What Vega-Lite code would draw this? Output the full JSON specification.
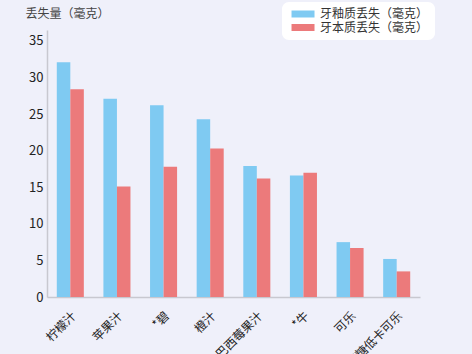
{
  "$schema": "https://vega.github.io/schema/vega-lite/v6.json",
  "autosize": "none",
  "width": 373,
  "height": 267,
  "padding": {"left": 47, "top": 30, "right": 52, "bottom": 57},
  "background": "#eff0fa",
  "config": {
    "font": "Noto Sans CJK SC",
    "view": {"stroke": null}
  },
  "data": {
    "values": [
      {"drink": "柠檬汁", "type": "牙釉质丢失（毫克）", "value": 32.1},
      {"drink": "柠檬汁", "type": "牙本质丢失（毫克）", "value": 28.4},
      {"drink": "苹果汁", "type": "牙釉质丢失（毫克）", "value": 27.1},
      {"drink": "苹果汁", "type": "牙本质丢失（毫克）", "value": 15.1},
      {"drink": "*碧", "type": "牙釉质丢失（毫克）", "value": 26.2},
      {"drink": "*碧", "type": "牙本质丢失（毫克）", "value": 17.8},
      {"drink": "橙汁", "type": "牙釉质丢失（毫克）", "value": 24.3},
      {"drink": "橙汁", "type": "牙本质丢失（毫克）", "value": 20.3},
      {"drink": "巴西莓果汁", "type": "牙釉质丢失（毫克）", "value": 17.9},
      {"drink": "巴西莓果汁", "type": "牙本质丢失（毫克）", "value": 16.2},
      {"drink": "*牛", "type": "牙釉质丢失（毫克）", "value": 16.6},
      {"drink": "*牛", "type": "牙本质丢失（毫克）", "value": 17.0},
      {"drink": "可乐", "type": "牙釉质丢失（毫克）", "value": 7.5},
      {"drink": "可乐", "type": "牙本质丢失（毫克）", "value": 6.7},
      {"drink": "无糖低卡可乐", "type": "牙釉质丢失（毫克）", "value": 5.2},
      {"drink": "无糖低卡可乐", "type": "牙本质丢失（毫克）", "value": 3.5}
    ]
  },
  "mark": {"type": "bar"},
  "encoding": {
    "x": {
      "field": "drink",
      "type": "nominal",
      "sort": null,
      "scale": {"paddingInner": 0.42, "paddingOuter": 0.21},
      "axis": {
        "title": null,
        "labelAngle": -45,
        "labelFontSize": 12,
        "labelColor": "#222222",
        "ticks": false,
        "labelPadding": 13,
        "labelDx": 3,
        "labelDy": 3,
        "domainColor": "#c8c8d0",
        "domainWidth": 1.5
      }
    },
    "xOffset": {"field": "type", "type": "nominal", "sort": ["牙釉质丢失（毫克）", "牙本质丢失（毫克）"]},
    "y": {
      "field": "value",
      "type": "quantitative",
      "scale": {"domain": [0, 36.5], "nice": false},
      "axis": {
        "values": [0, 5, 10, 15, 20, 25, 30, 35],
        "grid": false,
        "ticks": false,
        "labelFontSize": 13,
        "labelColor": "#222222",
        "labelPadding": 4,
        "domainColor": "#c8c8d0",
        "domainWidth": 1.5,
        "title": "丢失量（毫克）",
        "titleAngle": 0,
        "titleAlign": "left",
        "titleBaseline": "middle",
        "titleX": -22,
        "titleY": -17,
        "titleFontSize": 12,
        "titleFontWeight": "normal",
        "titleColor": "#444444"
      }
    },
    "color": {
      "field": "type",
      "type": "nominal",
      "sort": ["牙釉质丢失（毫克）", "牙本质丢失（毫克）"],
      "scale": {"domain": ["牙釉质丢失（毫克）", "牙本质丢失（毫克）"], "range": ["#7fcaf2", "#ec7a7b"]},
      "legend": {
        "title": null,
        "orient": "none",
        "legendX": 235,
        "legendY": -28,
        "direction": "vertical",
        "fillColor": "#ffffff",
        "cornerRadius": 7,
        "padding": 6,
        "symbolType": "M-0.71,-1H5.86V1H-0.71Z",
        "symbolSize": 49,
        "symbolStrokeWidth": 0,
        "symbolOpacity": 1,
        "labelFontSize": 12,
        "labelColor": "#333333",
        "labelOffset": 20,
        "rowPadding": 1.5
      }
    }
  }
}
